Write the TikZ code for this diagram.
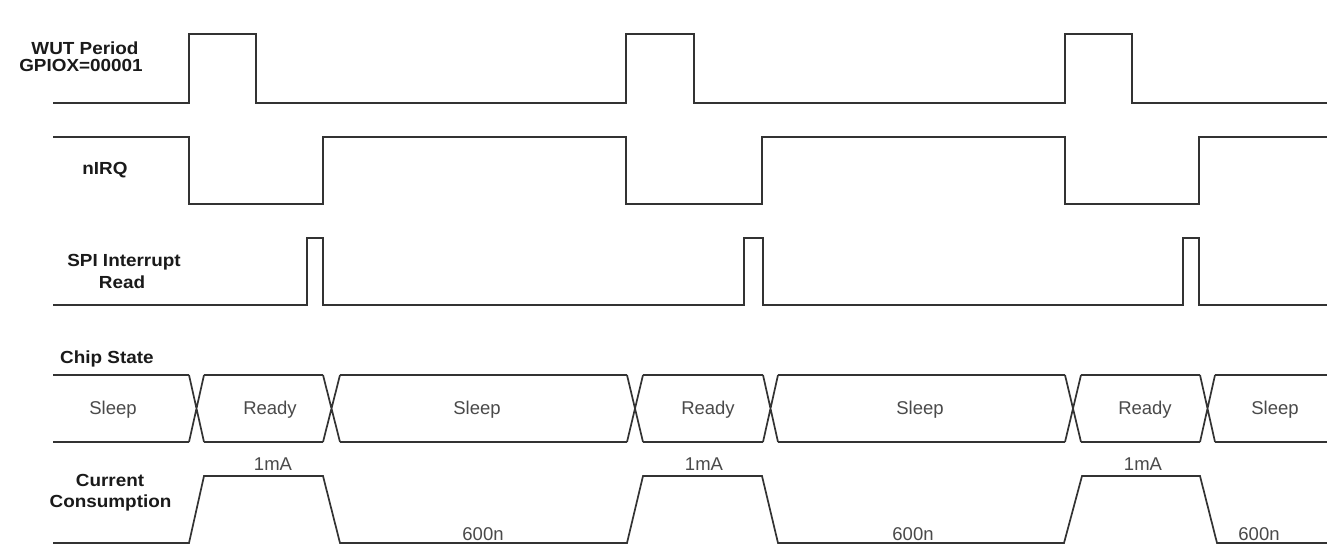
\documentclass[tikz,border=0pt]{standalone}
\usepackage{fontspec}
\newfontfamily\labfont[FakeStretch=1.08]{Liberation Sans}
\newfontfamily\stfont{Liberation Sans}
\definecolor{wire}{HTML}{333333}
\definecolor{labc}{HTML}{1A1A1A}
\definecolor{stc}{HTML}{4A4A4A}
\tikzset{
  sig/.style={draw=wire,line width=1.7pt,line join=miter},
  lab/.style={font=\labfont\bfseries\fontsize{17.5}{19}\selectfont,text=labc,inner sep=0pt,anchor=base},
  stl/.style={font=\stfont\fontsize{18.5}{20}\selectfont,text=stc,inner sep=0pt,anchor=base}
}
\begin{document}
\begin{tikzpicture}[x=1pt,y=-1pt]
\fill[white] (0,0) rectangle (1327,545);
\useasboundingbox (0,0) rectangle (1327,545);
% labels
\node[lab] (wut) at (85,55) {WUT Period};
\node[lab] (gpio) at (81,72) {GPIOX=00001};
\node[lab] (nirq) at (105,175) {nIRQ};
\node[lab] (spi) at (124,267) {SPI Interrupt};
\node[lab] (spir) at (122,288) {Read};
\node[lab,anchor=base west] (chip) at (60,363) {Chip State};
\node[lab] (cur) at (110,486) {Current};
\node[lab] (cons) at (110.5,507) {Consumption};
% WUT
\draw[sig] (53,103)--(189,103)--(189,34)--(256,34)--(256,103)--(626,103)--(626,34)--(694,34)--(694,103)--(1065,103)--(1065,34)--(1132,34)--(1132,103)--(1327,103);
% nIRQ
\draw[sig] (53,137)--(189,137)--(189,204)--(323,204)--(323,137)--(626,137)--(626,204)--(762,204)--(762,137)--(1065,137)--(1065,204)--(1199,204)--(1199,137)--(1327,137);
% SPI
\draw[sig] (53,305)--(307,305)--(307,238)--(323,238)--(323,305)--(744,305)--(744,238)--(763,238)--(763,305)--(1183,305)--(1183,238)--(1199,238)--(1199,305)--(1327,305);
% Chip state bus
\foreach \a/\b in {189/204,323/340,627/643,763/778,1065/1081,1200/1215}
  \draw[sig] (\a,375)--(\b,442) (\a,442)--(\b,375);
\foreach \y in {375,442}
  \draw[sig] (53,\y)--(189,\y) (204,\y)--(323,\y) (340,\y)--(627,\y) (643,\y)--(763,\y) (778,\y)--(1065,\y) (1081,\y)--(1200,\y) (1215,\y)--(1327,\y);
\node[stl] (s1) at (113,414) {Sleep};
\node[stl] (r1) at (270,414) {Ready};
\node[stl] (s2) at (477,414) {Sleep};
\node[stl] (r2) at (708,414) {Ready};
\node[stl] (s3) at (920,414) {Sleep};
\node[stl] (r3) at (1145,414) {Ready};
\node[stl] (s4) at (1275,414) {Sleep};
% current
\draw[sig] (53,543)--(189,543)--(204,476)--(323,476)--(340,543)--(627,543)--(643,476)--(762,476)--(778,543)--(1064,543)--(1082,476)--(1200,476)--(1217,543)--(1327,543);
\node[stl] (ma1) at (273,470) {1mA};
\node[stl] (ma2) at (704,470) {1mA};
\node[stl] (ma3) at (1143,470) {1mA};
\node[stl] (n1) at (483,540) {600n};
\node[stl] (n2) at (913,540) {600n};
\node[stl] (n3) at (1259,540) {600n};
\end{tikzpicture}
\end{document}
